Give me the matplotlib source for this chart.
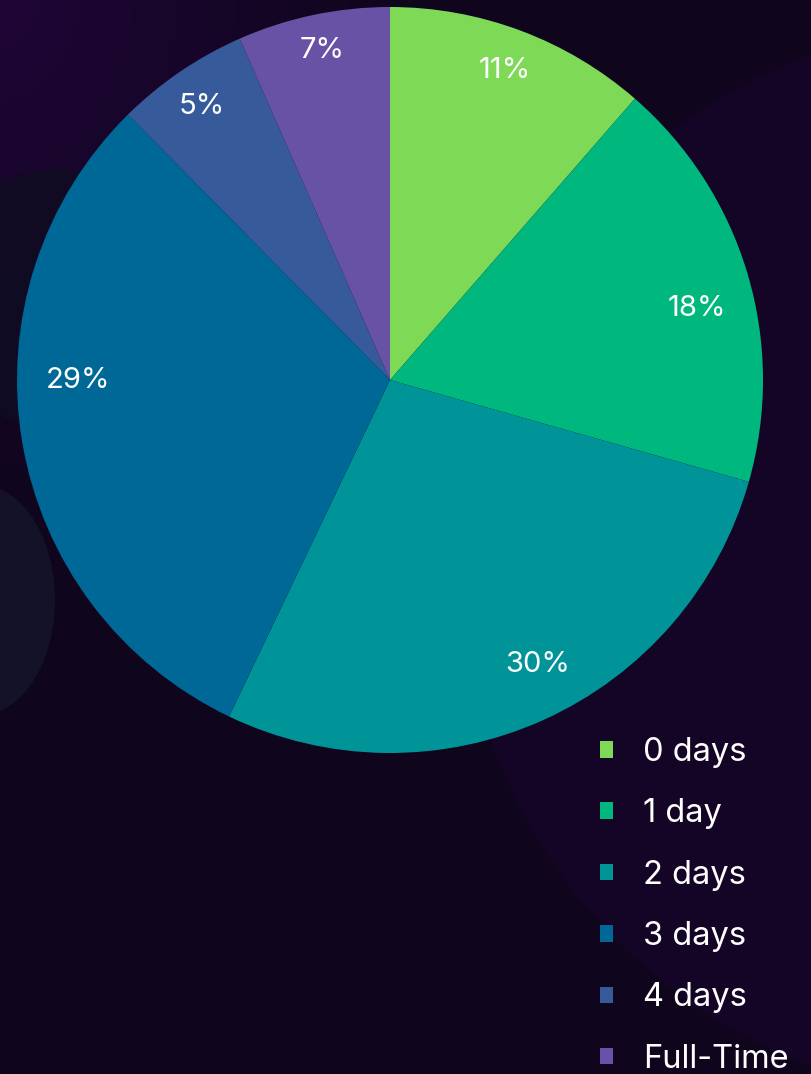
import numpy as np
import matplotlib
matplotlib.use("Agg")
import matplotlib.pyplot as plt
from matplotlib.patches import Ellipse, Circle, Patch

# ---- data ----
categories = ["0 days", "1 day", "2 days", "3 days", "4 days", "Full-Time"]
wedge_sizes = [11.4, 18.0, 27.7, 30.5, 5.8, 6.6]      # angular shares as drawn
pct_labels = ["11%", "18%", "30%", "29%", "5%", "7%"]  # printed labels
colors = ["#7ED957", "#00B87E", "#009499", "#006896", "#375A9A", "#6852A5"]

W, H = 812, 1074
plt.rcParams['font.family'] = ['Inter', 'DejaVu Sans']

fig = plt.figure(figsize=(W / 100, H / 100), dpi=100)
fig.patch.set_facecolor("#10061f")
ax = fig.add_axes([0, 0, 1, 1])
ax.set_xlim(0, W)
ax.set_ylim(0, H)
ax.axis("off")

# ---- background: soft gradient + faint shapes ----
yy, xx = np.mgrid[0:H, 0:W]
d = np.sqrt((xx / W) ** 2 + ((H - yy) / H) ** 2)  # distance from top-left
top = np.array([0x20, 0x05, 0x38]) / 255
base = np.array([0x0f, 0x05, 0x1d]) / 255
t = np.clip(d / 0.5, 0, 1)[..., None] ** 0.8
img = top * (1 - t) + base * t
ax.imshow(img, extent=(0, W, 0, H), origin="lower", zorder=0, aspect="auto")
ax.add_patch(Circle((1000, H - 560), 540, color="#1c0533", alpha=0.45, lw=0, zorder=0.5))
ax.add_patch(Ellipse((60, H - 300), 260, 260, color="#0f0d22", alpha=0.85, lw=0, zorder=0.5))
ax.add_patch(Ellipse((-20, H - 600), 150, 230, color="#16152a", alpha=0.85, lw=0, zorder=0.5))

# ---- pie ----
cx, cy, R = 390, H - 380, 373
wedges, _ = ax.pie(wedge_sizes, colors=colors, startangle=90, counterclock=False,
                   center=(cx, cy), radius=R, wedgeprops=dict(linewidth=0),
                   frame=True)
for w in wedges:
    w.set_zorder(2)
ax.set_xlim(0, W)
ax.set_ylim(0, H)
ax.set_aspect("auto")
ax.axis("off")

# label placement (pixel layout of the annotations)
label_pos = [(505, 70), (697, 308), (538, 665), (78, 380), (202, 107), (322, 50)]
for txt, (px, py) in zip(pct_labels, label_pos):
    ax.text(px, H - py, txt, color="white", fontsize=21, ha="center", va="center",
            zorder=3)

# ---- legend ----
handles = [Patch(facecolor=c, edgecolor="none") for c in colors]
leg = ax.legend(handles, categories, loc="upper left",
                bbox_to_anchor=(600 / W, 1 - 737 / H), frameon=False,
                fontsize=23.5, handlelength=0.4, handleheight=0.4,
                handletextpad=0.92, labelspacing=0.93, borderpad=0, borderaxespad=0)
for t_ in leg.get_texts():
    t_.set_color("white")
leg.set_zorder(4)

fig.savefig("out.png", dpi=100, facecolor=fig.get_facecolor())
